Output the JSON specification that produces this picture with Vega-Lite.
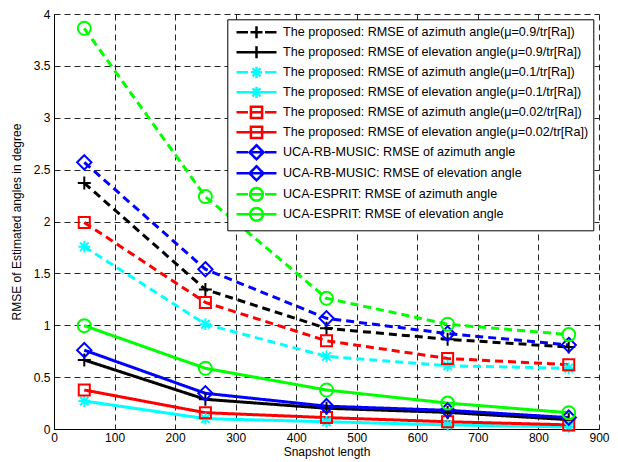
{
  "$schema": "https://vega.github.io/schema/vega-lite/v6.json",
  "width": 545,
  "height": 415,
  "autosize": {"type": "none"},
  "padding": {"left": 54, "top": 14, "right": 19, "bottom": 33},
  "background": "white",
  "config": {
    "view": {"stroke": null},
    "font": "Liberation Sans",
    "axis": {
      "labelFont": "Liberation Sans",
      "labelFontSize": 12,
      "labelColor": "#000",
      "titleFont": "Liberation Sans",
      "titleFontSize": 12,
      "titleFontWeight": "normal",
      "titleColor": "#000",
      "domainColor": "#000",
      "domainWidth": 1,
      "ticks": false,
      "grid": true,
      "gridColor": "#000",
      "gridDash": [6, 4],
      "gridWidth": 1,
      "gridOpacity": 0.85,
      "labelFlush": false,
      "labelOverlap": false
    }
  },
  "data": {
    "values": [
      {"n": 50, "rmse": 2.37, "series": "The proposed: RMSE of azimuth angle(μ=0.9/tr[Ra])"},
      {"n": 250, "rmse": 1.345, "series": "The proposed: RMSE of azimuth angle(μ=0.9/tr[Ra])"},
      {"n": 450, "rmse": 0.97, "series": "The proposed: RMSE of azimuth angle(μ=0.9/tr[Ra])"},
      {"n": 650, "rmse": 0.865, "series": "The proposed: RMSE of azimuth angle(μ=0.9/tr[Ra])"},
      {"n": 850, "rmse": 0.79, "series": "The proposed: RMSE of azimuth angle(μ=0.9/tr[Ra])"},
      {"n": 50, "rmse": 0.665, "series": "The proposed: RMSE of elevation angle(μ=0.9/tr[Ra])"},
      {"n": 250, "rmse": 0.286, "series": "The proposed: RMSE of elevation angle(μ=0.9/tr[Ra])"},
      {"n": 450, "rmse": 0.2, "series": "The proposed: RMSE of elevation angle(μ=0.9/tr[Ra])"},
      {"n": 650, "rmse": 0.16, "series": "The proposed: RMSE of elevation angle(μ=0.9/tr[Ra])"},
      {"n": 850, "rmse": 0.09, "series": "The proposed: RMSE of elevation angle(μ=0.9/tr[Ra])"},
      {"n": 50, "rmse": 1.757, "series": "The proposed: RMSE of azimuth angle(μ=0.1/tr[Ra])"},
      {"n": 250, "rmse": 1.01, "series": "The proposed: RMSE of azimuth angle(μ=0.1/tr[Ra])"},
      {"n": 450, "rmse": 0.7, "series": "The proposed: RMSE of azimuth angle(μ=0.1/tr[Ra])"},
      {"n": 650, "rmse": 0.61, "series": "The proposed: RMSE of azimuth angle(μ=0.1/tr[Ra])"},
      {"n": 850, "rmse": 0.585, "series": "The proposed: RMSE of azimuth angle(μ=0.1/tr[Ra])"},
      {"n": 50, "rmse": 0.27, "series": "The proposed: RMSE of elevation angle(μ=0.1/tr[Ra])"},
      {"n": 250, "rmse": 0.1, "series": "The proposed: RMSE of elevation angle(μ=0.1/tr[Ra])"},
      {"n": 450, "rmse": 0.07, "series": "The proposed: RMSE of elevation angle(μ=0.1/tr[Ra])"},
      {"n": 650, "rmse": 0.04, "series": "The proposed: RMSE of elevation angle(μ=0.1/tr[Ra])"},
      {"n": 850, "rmse": 0.02, "series": "The proposed: RMSE of elevation angle(μ=0.1/tr[Ra])"},
      {"n": 50, "rmse": 1.99, "series": "The proposed: RMSE of azimuth angle(μ=0.02/tr[Ra])"},
      {"n": 250, "rmse": 1.22, "series": "The proposed: RMSE of azimuth angle(μ=0.02/tr[Ra])"},
      {"n": 450, "rmse": 0.85, "series": "The proposed: RMSE of azimuth angle(μ=0.02/tr[Ra])"},
      {"n": 650, "rmse": 0.68, "series": "The proposed: RMSE of azimuth angle(μ=0.02/tr[Ra])"},
      {"n": 850, "rmse": 0.62, "series": "The proposed: RMSE of azimuth angle(μ=0.02/tr[Ra])"},
      {"n": 50, "rmse": 0.376, "series": "The proposed: RMSE of elevation angle(μ=0.02/tr[Ra])"},
      {"n": 250, "rmse": 0.157, "series": "The proposed: RMSE of elevation angle(μ=0.02/tr[Ra])"},
      {"n": 450, "rmse": 0.11, "series": "The proposed: RMSE of elevation angle(μ=0.02/tr[Ra])"},
      {"n": 650, "rmse": 0.07, "series": "The proposed: RMSE of elevation angle(μ=0.02/tr[Ra])"},
      {"n": 850, "rmse": 0.04, "series": "The proposed: RMSE of elevation angle(μ=0.02/tr[Ra])"},
      {"n": 50, "rmse": 2.57, "series": "UCA-RB-MUSIC: RMSE of azimuth angle"},
      {"n": 250, "rmse": 1.54, "series": "UCA-RB-MUSIC: RMSE of azimuth angle"},
      {"n": 450, "rmse": 1.067, "series": "UCA-RB-MUSIC: RMSE of azimuth angle"},
      {"n": 650, "rmse": 0.92, "series": "UCA-RB-MUSIC: RMSE of azimuth angle"},
      {"n": 850, "rmse": 0.81, "series": "UCA-RB-MUSIC: RMSE of azimuth angle"},
      {"n": 50, "rmse": 0.76, "series": "UCA-RB-MUSIC: RMSE of elevation angle"},
      {"n": 250, "rmse": 0.344, "series": "UCA-RB-MUSIC: RMSE of elevation angle"},
      {"n": 450, "rmse": 0.22, "series": "UCA-RB-MUSIC: RMSE of elevation angle"},
      {"n": 650, "rmse": 0.18, "series": "UCA-RB-MUSIC: RMSE of elevation angle"},
      {"n": 850, "rmse": 0.11, "series": "UCA-RB-MUSIC: RMSE of elevation angle"},
      {"n": 50, "rmse": 3.862, "series": "UCA-ESPRIT: RMSE of azimuth angle"},
      {"n": 250, "rmse": 2.24, "series": "UCA-ESPRIT: RMSE of azimuth angle"},
      {"n": 450, "rmse": 1.26, "series": "UCA-ESPRIT: RMSE of azimuth angle"},
      {"n": 650, "rmse": 1.01, "series": "UCA-ESPRIT: RMSE of azimuth angle"},
      {"n": 850, "rmse": 0.91, "series": "UCA-ESPRIT: RMSE of azimuth angle"},
      {"n": 50, "rmse": 0.996, "series": "UCA-ESPRIT: RMSE of elevation angle"},
      {"n": 250, "rmse": 0.585, "series": "UCA-ESPRIT: RMSE of elevation angle"},
      {"n": 450, "rmse": 0.376, "series": "UCA-ESPRIT: RMSE of elevation angle"},
      {"n": 650, "rmse": 0.25, "series": "UCA-ESPRIT: RMSE of elevation angle"},
      {"n": 850, "rmse": 0.157, "series": "UCA-ESPRIT: RMSE of elevation angle"}
    ]
  },
  "encoding": {
    "x": {
      "field": "n",
      "type": "quantitative",
      "scale": {"domain": [0, 900], "nice": false},
      "axis": {"title": "Snapshot length", "values": [0, 100, 200, 300, 400, 500, 600, 700, 800, 900], "labelPadding": 3, "titlePadding": 3}
    },
    "y": {
      "field": "rmse",
      "type": "quantitative",
      "scale": {"domain": [0, 4], "nice": false},
      "axis": {"title": "RMSE of Estimated angles in degree", "values": [0, 0.5, 1, 1.5, 2, 2.5, 3, 3.5, 4], "format": ".1~f", "labelPadding": 4, "titlePadding": 10}
    }
  },
  "layer": [
    {
      "mark": {"type": "line", "strokeWidth": 3},
      "encoding": {
        "color": {
          "field": "series",
          "type": "nominal",
          "scale": {
            "domain": [
              "The proposed: RMSE of azimuth angle(μ=0.9/tr[Ra])",
              "The proposed: RMSE of elevation angle(μ=0.9/tr[Ra])",
              "The proposed: RMSE of azimuth angle(μ=0.1/tr[Ra])",
              "The proposed: RMSE of elevation angle(μ=0.1/tr[Ra])",
              "The proposed: RMSE of azimuth angle(μ=0.02/tr[Ra])",
              "The proposed: RMSE of elevation angle(μ=0.02/tr[Ra])",
              "UCA-RB-MUSIC: RMSE of azimuth angle",
              "UCA-RB-MUSIC: RMSE of elevation angle",
              "UCA-ESPRIT: RMSE of azimuth angle",
              "UCA-ESPRIT: RMSE of elevation angle"
            ],
            "range": ["#000000", "#000000", "#00FFFF", "#00FFFF", "#FF0000", "#FF0000", "#0000FF", "#0000FF", "#00FF00", "#00FF00"]
          },
          "legend": {
            "title": null,
            "orient": "none",
            "legendX": 173.3,
            "legendY": 5.3,
            "padding": 4.5,
            "rowPadding": -6.4,
            "symbolSize": 196,
            "symbolStrokeWidth": 2.5,
            "symbolOffset": 16.2,
            "labelOffset": 18,
            "labelFont": "Liberation Sans",
            "labelFontSize": 12.6,
            "labelColor": "#000",
            "labelLimit": 0,
            "strokeColor": "#000",
            "fillColor": "white",
            "cornerRadius": 0,
            "encode": {
              "symbols": {
                "update": {
                  "fill": {"value": "transparent"},
                  "strokeWidth": {"value": 2.5},
                  "strokeDash": {"value": [1, 0]},
                  "shape": {"signal": "(indexof(datum.value,'azimuth')>=0 ? 'M-2.857,0H-1.214M-0.714,0H0.714M1.214,0H2.857' : 'M-2.857,0H2.857') + (indexof(datum.value,'0.9/')>=0 ? 'M-0.857,0H0.857M0,-0.857V0.857' : indexof(datum.value,'0.1/')>=0 ? 'M-0.8,0H0.8M0,-0.8V0.8M-0.57,-0.57L0.57,0.57M-0.57,0.57L0.57,-0.57' : indexof(datum.value,'0.02/')>=0 ? 'M-0.8,-0.8H0.8V0.8H-0.8Z' : indexof(datum.value,'MUSIC')>=0 ? 'M0,-1L1,0L0,1L-1,0Z' : 'M-0.9,0A0.9,0.9,0,1,0,0.9,0A0.9,0.9,0,1,0,-0.9,0Z')"}
                }
              }
            }
          }
        },
        "strokeDash": {
          "condition": {"test": "indexof(datum.series,'azimuth')>=0", "value": [8, 5]},
          "value": [1, 0]
        }
      }
    },
    {
      "mark": {"type": "point", "filled": false, "strokeWidth": 2, "size": 169, "opacity": 1},
      "encoding": {
        "color": {"field": "series", "type": "nominal", "legend": null},
        "shape": {
          "condition": [
            {"test": "indexof(datum.series,'0.9/')>=0", "value": "M-1,0H1M0,-1V1"},
            {"test": "indexof(datum.series,'0.1/')>=0", "value": "M-0.9,0H0.9M0,-0.9V0.9M-0.65,-0.65L0.65,0.65M-0.65,0.65L0.65,-0.65"},
            {"test": "indexof(datum.series,'0.02/')>=0", "value": "M-0.85,-0.85H0.85V0.85H-0.85Z"},
            {"test": "indexof(datum.series,'MUSIC')>=0", "value": "M0,-1.1L1.1,0L0,1.1L-1.1,0Z"}
          ],
          "value": "M-1,0A1,1,0,1,0,1,0A1,1,0,1,0,-1,0Z"
        }
      }
    }
  ]
}
